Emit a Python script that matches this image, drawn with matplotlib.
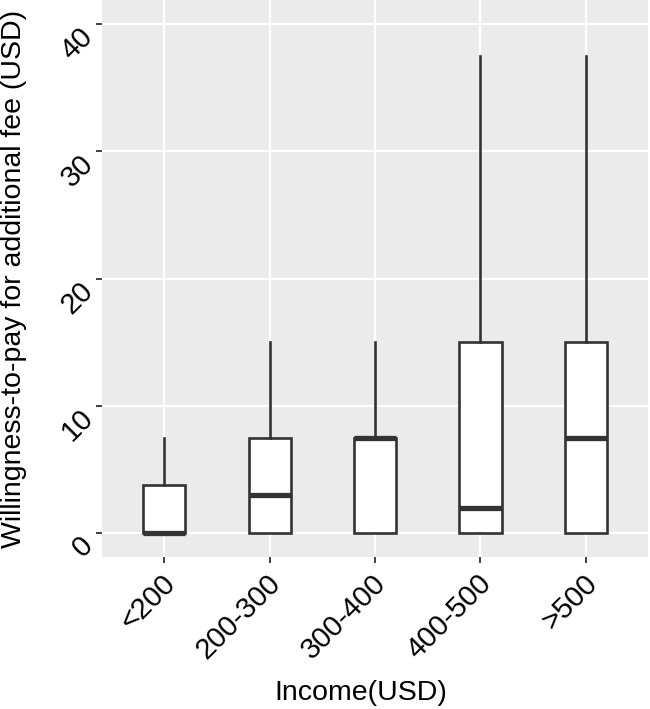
import matplotlib
matplotlib.use("Agg")
import matplotlib.pyplot as plt
import matplotlib.transforms as mtransforms

# Box statistics
categories = ["<200", "200-300", "300-400", "400-500", ">500"]
q1 = [0, 0, 0, 0, 0]
median = [0, 3, 7.5, 2, 7.5]
q3 = [3.75, 7.5, 7.5, 15, 15]
whis_lo = [0, 0, 0, 0, 0]
whis_hi = [7.5, 15, 15, 37.5, 37.5]
y_ticks = [0, 10, 20, 30, 40]

plt.rcParams["font.family"] = ["Liberation Sans", "DejaVu Sans"]

fig = plt.figure(figsize=(6.5, 7.09), dpi=100)
ax = fig.add_axes([0.157, 0.2144, 0.84, 0.7856])
ax.set_facecolor("#ebebeb")

stats = []
for i, c in enumerate(categories):
    stats.append(dict(label=c, q1=q1[i], med=median[i], q3=q3[i],
                      whislo=whis_lo[i], whishi=whis_hi[i], fliers=[]))

pos = list(range(1, len(categories) + 1))
ln = "#333333"
ax.bxp(stats, positions=pos, widths=0.40, patch_artist=True, showcaps=False,
       boxprops=dict(facecolor="white", edgecolor=ln, linewidth=1.9),
       medianprops=dict(color=ln, linewidth=3.8, solid_capstyle="butt"),
       whiskerprops=dict(color=ln, linewidth=1.9), zorder=3)

ax.set_xlim(0.41, 5.59)
ax.set_ylim(-1.89, 41.9)
ax.set_yticks(y_ticks)
ax.set_yticklabels([])
ax.set_xticks(pos)
ax.set_xticklabels([])

# rotated tick labels placed by hand (ggplot-like offsets)
xt = mtransforms.blended_transform_factory(ax.transData, ax.transAxes)
xt = mtransforms.offset_copy(xt, fig=fig, x=-2.2, y=-8.6, units="points")
for p, c in zip(pos, categories):
    ax.text(p, 0, c, transform=xt, rotation=45, fontsize=21, ha="right",
            va="top", rotation_mode="anchor", clip_on=False)
yt = mtransforms.blended_transform_factory(ax.transAxes, ax.transData)
yt = mtransforms.offset_copy(yt, fig=fig, x=-9.4, y=-5.8, units="points")
for v in y_ticks:
    ax.text(0, v, str(v), transform=yt, rotation=45, fontsize=21, ha="right",
            va="center", rotation_mode="anchor", clip_on=False)

ax.grid(True, color="white", linewidth=1.6, zorder=0)
ax.set_axisbelow(True)
for s in ax.spines.values():
    s.set_visible(False)
ax.tick_params(axis="both", color=ln, length=4, width=1.3, pad=3)

ax.set_xlabel("Income(USD)", fontsize=20.5)
ax.xaxis.set_label_coords(0.474, -0.221)
ax.set_ylabel("Willingness-to-pay for additional fee (USD)", fontsize=20.5)
ax.yaxis.set_label_coords(-0.137, 0.5)

fig.savefig("out.png", dpi=100)
